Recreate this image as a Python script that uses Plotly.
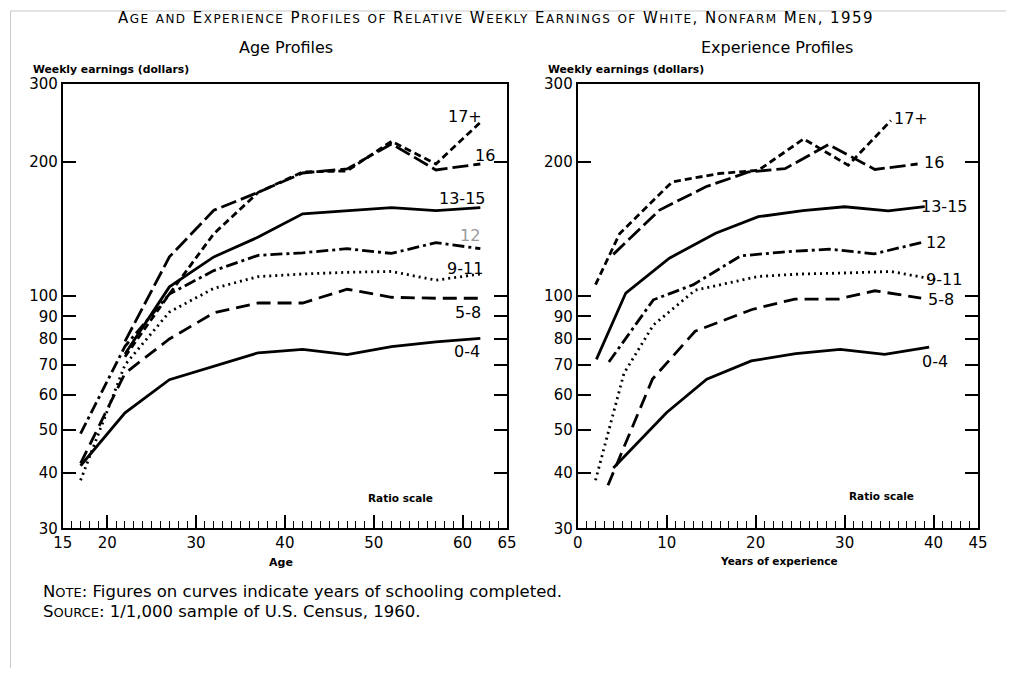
import plotly.graph_objects as go

# ---------------- data ----------------
age_groups = ["0-4", "5-8", "9-11", "12", "13-15", "16", "17+"]

age_x = {
    "0-4":   [17, 22, 27, 32, 37, 42, 47, 52, 57, 62],
    "5-8":   [17, 22, 27, 32, 37, 42, 47, 52, 57, 62],
    "9-11":  [17, 22, 27, 32, 37, 42, 47, 52, 57, 62],
    "12":    [17, 22, 27, 32, 37, 42, 47, 52, 57, 62],
    "13-15": [22, 27, 32, 37, 42, 47, 52, 57, 62],
    "16":    [22, 27, 32, 37, 42, 47, 52, 57, 62],
    "17+":   [22, 27, 32, 37, 42, 47, 52, 57, 62],
}
age_y = {
    "0-4":   [41.5, 54.6, 64.8, 69.5, 74.5, 75.8, 73.8, 76.9, 78.8, 80.3],
    "5-8":   [42, 67, 80, 91.6, 96.4, 96.4, 103.5, 99.3, 98.8, 98.8],
    "9-11":  [38.5, 70, 92, 104, 110.5, 112, 113, 113.5, 108.5, 112],
    "12":    [49, 77, 101, 114, 123.4, 125, 127.7, 124.6, 131.8, 127.7],
    "13-15": [74, 104.8, 122.4, 135.6, 153, 155.6, 158, 155.6, 158],
    "16":    [79, 122.4, 155.8, 171, 189, 193, 219.7, 192, 198],
    "17+":   [73, 101, 138, 171, 190, 191, 222.7, 198, 245.6],
}

exp_x = {
    "0-4":   [4, 10, 14.5, 19.5, 24.5, 29.5, 34.5, 39.5],
    "5-8":   [3.4, 8.4, 13.2, 19.6, 24.4, 29.3, 33.4, 38.6],
    "9-11":  [2, 5.2, 8.5, 13.2, 20.3, 25, 30, 35.2, 40.3],
    "12":    [3.5, 8.5, 13, 18.3, 23, 28.3, 33.3, 39],
    "13-15": [2.1, 5.4, 10.3, 15.5, 20.3, 25.3, 30, 34.9, 39],
    "16":    [4, 9.2, 14.4, 19.2, 23.3, 28.2, 33.4, 38.2],
    "17+":   [2, 4.7, 10.6, 15.9, 20.3, 25.4, 30.4, 35.2],
}
exp_y = {
    "0-4":   [41, 54.7, 65, 71.4, 74.2, 75.8, 73.9, 76.7],
    "5-8":   [37.5, 65, 83.3, 93.2, 98.4, 98.4, 102.7, 98.9],
    "9-11":  [38.5, 67, 86, 103, 110.6, 112, 112.6, 113.5, 108.7],
    "12":    [71, 98, 106, 123, 125.5, 127.4, 124.3, 132.4],
    "13-15": [72, 101.5, 121.6, 138.3, 150.7, 155.5, 158.7, 155.3, 158.7],
    "16":    [124, 156, 176, 190, 193.3, 219, 192.5, 198],
    "17+":   [106, 138, 180.4, 188.5, 191.6, 225.5, 196.7, 248],
}

y_ticks = [30, 40, 50, 60, 70, 80, 90, 100, 200, 300]
age_ticks = [15, 20, 30, 40, 50, 60, 65]
exp_ticks = [0, 10, 20, 30, 40, 45]
age_range = [15, 65]
exp_range = [0, 45]

# ---------------- styles ----------------
dashes = {
    "0-4": "solid",
    "5-8": "14px,7px",
    "9-11": "2px,4px",
    "12": "12px,4px,3px,4px",
    "13-15": "solid",
    "16": "16px,5px",
    "17+": "7px,4px",
}

W, H = 1016, 677
# visible drawing box (page body inset of 8px)
BW, BH, OFF = 1000, 661, 8


def px(x, y):
    return (x - OFF) / BW, 1 - (y - OFF) / BH


fig = go.Figure()
for g in age_groups:
    fig.add_trace(go.Scatter(x=age_x[g], y=age_y[g], mode="lines", xaxis="x", yaxis="y",
                             line=dict(color="black", width=2.8, dash=dashes[g]),
                             showlegend=False, hoverinfo="skip"))
    fig.add_trace(go.Scatter(x=exp_x[g], y=exp_y[g], mode="lines", xaxis="x2", yaxis="y2",
                             line=dict(color="black", width=2.8, dash=dashes[g]),
                             showlegend=False, hoverinfo="skip"))
# invisible anchors so the overlay tick axes are drawn
for xa, ya, xr in [("x3", "y", age_range), ("x4", "y2", exp_range),
                   ("x", "y3", age_range), ("x2", "y4", exp_range)]:
    fig.add_trace(go.Scatter(x=xr, y=[y_ticks[0], y_ticks[0]], mode="markers", xaxis=xa, yaxis=ya,
                             marker=dict(opacity=0), showlegend=False, hoverinfo="skip"))

FONT = "DejaVu Sans"
xd1 = [px(61, 0)[0], px(507, 0)[0]]
xd2 = [px(578, 0)[0], px(980, 0)[0]]
yd = [px(0, 529)[1], px(0, 83)[1]]

yrange = [1.4771, 2.4771]
main_y = dict(type="log", range=yrange, tickmode="array", tickvals=y_ticks,
              ticktext=[str(v) for v in y_ticks], ticks="inside", ticklen=13, tickwidth=2,
              tickcolor="black", showline=True, linecolor="black", linewidth=2,
              mirror=True, showgrid=False, zeroline=False,
              tickfont=dict(family=FONT, size=15, color="black"), domain=yd)
right_y = dict(type="log", range=yrange, tickmode="array", tickvals=y_ticks, ticks="inside",
               ticklen=13, tickwidth=2, tickcolor="black", showticklabels=False, showline=False,
               showgrid=False, zeroline=False, side="right")
main_x = dict(tickmode="array", ticks="inside", ticklen=13, tickwidth=1.8, tickcolor="black",
              showline=True, linecolor="black", linewidth=2, mirror=True, showgrid=False,
              zeroline=False, tickfont=dict(family=FONT, size=15, color="black"))
minor_x = dict(tickmode="linear", tick0=0, dtick=1, ticks="inside", ticklen=7, tickwidth=1.3,
               tickcolor="black", showticklabels=False, showline=False, showgrid=False,
               zeroline=False)

fig.update_layout(
    width=W, height=H, margin=dict(l=0, r=0, t=0, b=0),
    paper_bgcolor="white", plot_bgcolor="white",
    xaxis=dict(main_x, domain=xd1, range=age_range, anchor="y", tickvals=age_ticks,
               ticktext=[str(v) for v in age_ticks]),
    yaxis=dict(main_y, anchor="x"),
    xaxis2=dict(main_x, domain=xd2, range=exp_range, anchor="y2", tickvals=exp_ticks,
                ticktext=[str(v) for v in exp_ticks]),
    yaxis2=dict(main_y, anchor="x2"),
    xaxis3=dict(minor_x, overlaying="x", anchor="y", range=age_range),
    xaxis4=dict(minor_x, overlaying="x2", anchor="y2", range=exp_range),
    yaxis3=dict(right_y, overlaying="y", anchor="x"),
    yaxis4=dict(right_y, overlaying="y2", anchor="x2"),
)


def smallcaps(text, big=15, small=12, spacing=1.45):
    out = []
    for ch in text:
        if ch.islower():
            out.append(f"<span style='font-size:{small}px;letter-spacing:{spacing}px'>{ch.upper()}</span>")
        else:
            out.append(f"<span style='font-size:{big}px;letter-spacing:{spacing}px'>{ch}</span>")
    return "".join(out)


annotations = []


def add_text(x, y, text, size=13, xanchor="center", bold=False, color="black"):
    xx, yy = px(x, y)
    if bold:
        text = f"<b>{text}</b>"
    annotations.append(dict(x=xx, y=yy, xref="paper", yref="paper", text=text, showarrow=False,
                            xanchor=xanchor, yanchor="middle", borderpad=0,
                            font=dict(family=FONT, size=size, color=color)))


add_text(496, 17, smallcaps("Age and Experience Profiles of Relative Weekly Earnings of White, Nonfarm Men, 1959"),
         size=15)

add_text(285, 47, "Age Profiles", size=16)
add_text(778, 47, "Experience Profiles", size=16)
add_text(30, 69, "Weekly earnings (dollars)", size=10.8, xanchor="left", bold=True)
add_text(547, 69, "Weekly earnings (dollars)", size=10.8, xanchor="left", bold=True)

add_text(400, 498, "Ratio scale", size=10.5, bold=True)
add_text(883, 496, "Ratio scale", size=10.5, bold=True)
add_text(280, 563, "Age", size=11, bold=True)
add_text(780, 562, "Years of experience", size=10.5, bold=True)

# curve labels
left_lab = {"17+": (465, 116), "16": (485, 155), "13-15": (462, 198), "12": (470, 235),
            "9-11": (465, 268), "5-8": (468, 312), "0-4": (467, 352)}
right_lab = {"17+": (913, 118), "16": (936, 162), "13-15": (946, 206), "12": (938, 242),
             "9-11": (946, 279), "5-8": (943, 299), "0-4": (937, 362)}
for g, (x, y) in left_lab.items():
    add_text(x, y, g, size=16, color="#9a9a9a" if g == "12" else "black")
for g, (x, y) in right_lab.items():
    add_text(x, y, g, size=16)

note = smallcaps("Note", 16.5, 13, 0) + "<span style='font-size:16.5px'>: Figures on curves indicate years of schooling completed.</span>"
source = smallcaps("Source", 16.5, 13, 0) + "<span style='font-size:16.5px'>: 1/1,000 sample of U.S. Census, 1960.</span>"
add_text(40, 592, note, size=16.5, xanchor="left")
add_text(40, 612, source, size=16.5, xanchor="left")

fig.update_layout(annotations=annotations)

# faint page border of the scan
bx, by = px(8.5, 10)
fig.add_shape(type="line", xref="paper", yref="paper", x0=bx, x1=bx, y0=0, y1=by,
              line=dict(color="#c8c8c8", width=1))
fig.add_shape(type="line", xref="paper", yref="paper", x0=bx, x1=1, y0=by, y1=by,
              line=dict(color="#c8c8c8", width=1))

fig.write_html("out.html")
